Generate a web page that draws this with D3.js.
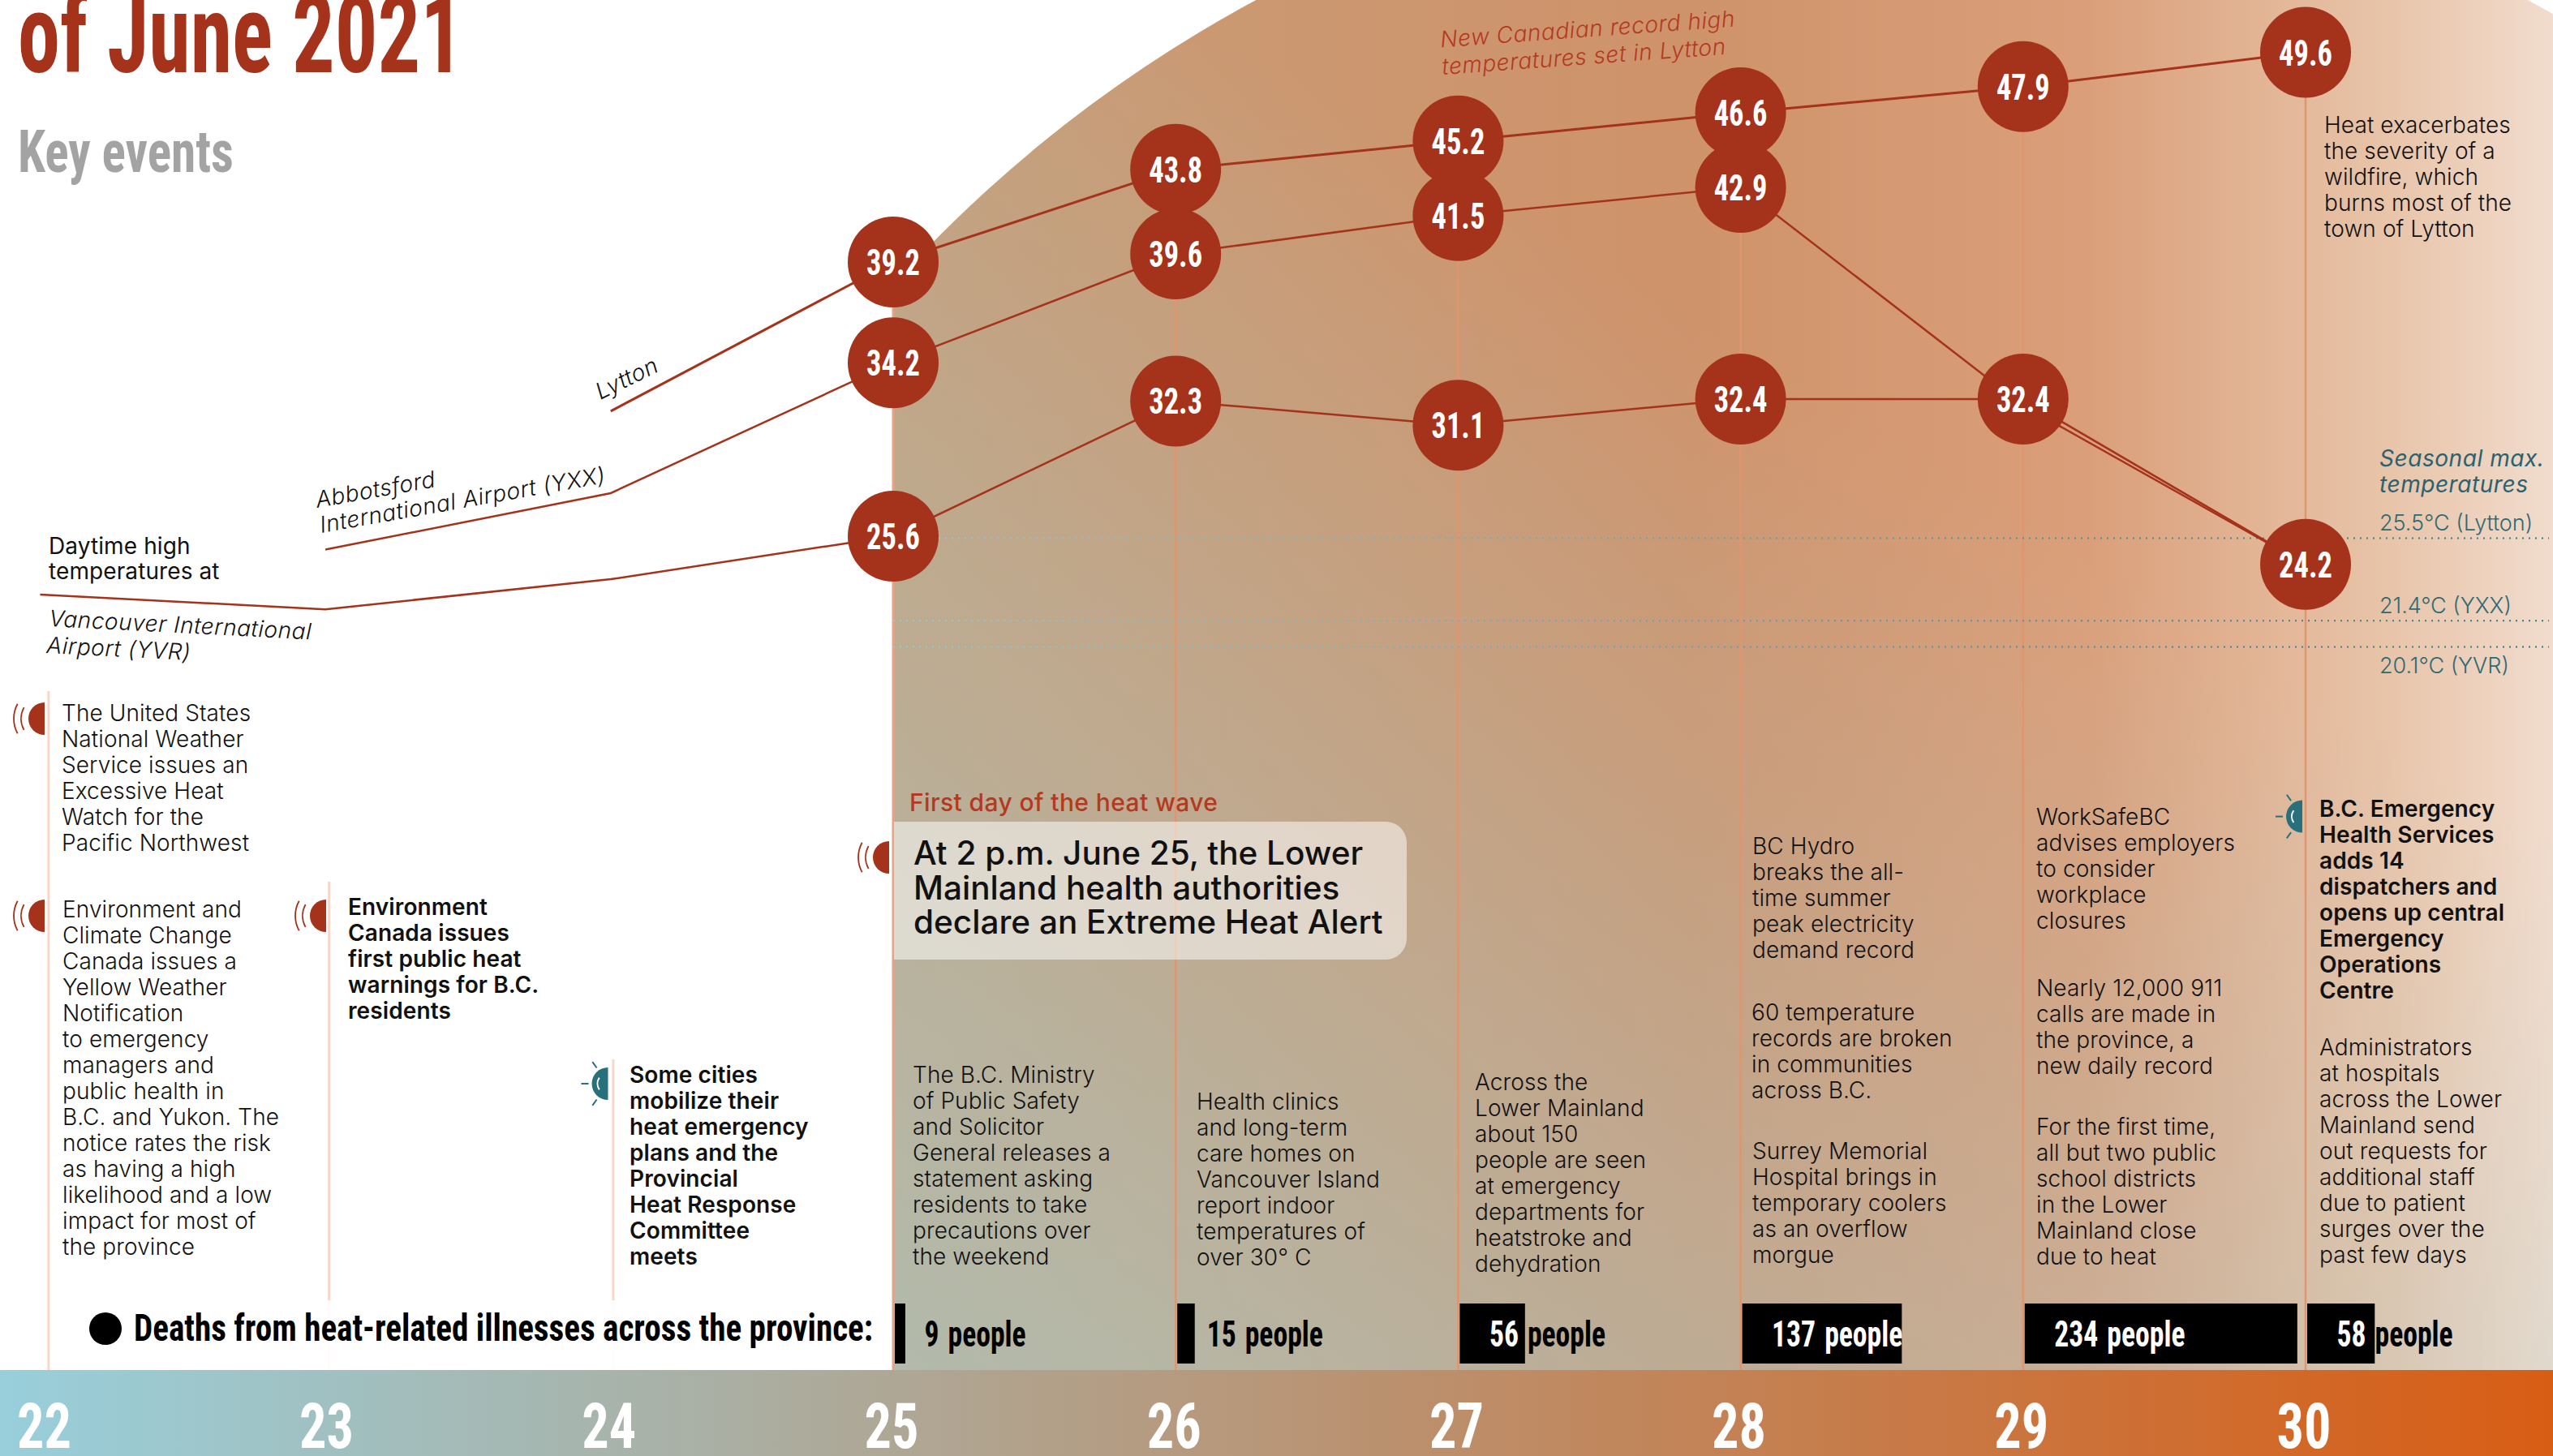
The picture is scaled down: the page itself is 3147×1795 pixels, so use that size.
<!DOCTYPE html>
<html>
<head>
<meta charset="utf-8">
<script src="https://cdn.jsdelivr.net/npm/d3@7"></script>
<style>
  html, body { margin: 0; padding: 0; background: white; overflow: hidden; }
  svg { display: block; }
</style>
</head>
<body>
<div id="chart"></div>
<script>
const width_chart = 3147
const height_chart = 1795

const color_red = "#a5321a"
const color_teal = "#27707c"
const font_body = "Inter, 'Noto Sans', sans-serif"
const font_narrow = "'Liberation Sans Narrow', 'Roboto Condensed', Roboto, sans-serif"

// temperaturas
const lyttonDays = [24, 25, 26, 27, 28, 29, 30]
const lyttonTemps = [31.8, 39.2, 43.8, 45.2, 46.6, 47.9, 49.6]
const abbotsfordDays = [22.99, 24, 25, 26, 27, 28, 29, 30]
const abbotsfordTemps = [24.93, 27.73, 34.2, 39.6, 41.5, 42.9, 32.08, 24.2]
const yvrDays = [21.98, 22.99, 24, 25, 26, 27, 28, 29, 30]
const yvrTemps = [22.7, 21.97, 23.46, 25.6, 32.3, 31.1, 32.4, 32.4, 24.2]

const dotDays = [25, 25, 25, 26, 26, 26, 27, 27, 27, 28, 28, 28, 29, 29, 30, 30]
const dotTemps = [39.2, 34.2, 25.6, 43.8, 39.6, 32.3, 45.2, 41.5, 31.1, 46.6, 42.9, 32.4, 47.9, 32.4, 49.6, 24.2]

const seasonalTemps = [25.5, 21.4, 20.1]
const seasonalLabels = ["25.5°C (Lytton)", "21.4°C (YXX)", "20.1°C (YVR)"]

const dayTicks = [22, 23, 24, 25, 26, 27, 28, 29, 30]
const deathDays = [25, 26, 27, 28, 29, 30]
const deathValues = [9, 15, 56, 137, 234, 58]

const noteUsWatch = ["The United States", "National Weather", "Service issues an", "Excessive Heat", "Watch for the", "Pacific Northwest"]
const noteYellow = ["Environment and", "Climate Change", "Canada issues a", "Yellow Weather", "Notification", "to emergency", "managers and", "public health in", "B.C. and Yukon. The", "notice rates the risk", "as having a high", "likelihood and a low", "impact for most of", "the province"]
const noteWarnings = ["Environment", "Canada issues", "first public heat", "warnings for B.C.", "residents"]
const noteCities = ["Some cities", "mobilize their", "heat emergency", "plans and the", "Provincial", "Heat Response", "Committee", "meets"]
const noteAlert = ["At 2 p.m. June 25, the Lower", "Mainland health authorities", "declare an Extreme Heat Alert"]
const noteMinistry = ["The B.C. Ministry", "of Public Safety", "and Solicitor", "General releases a", "statement asking", "residents to take", "precautions over", "the weekend"]
const noteClinics = ["Health clinics", "and long-term", "care homes on", "Vancouver Island", "report indoor", "temperatures of", "over 30° C"]
const noteSeen = ["Across the", "Lower Mainland", "about 150", "people are seen", "at emergency", "departments for", "heatstroke and", "dehydration"]
const noteHydro = ["BC Hydro", "breaks the all-", "time summer", "peak electricity", "demand record"]
const noteRecords = ["60 temperature", "records are broken", "in communities", "across B.C."]
const noteSurrey = ["Surrey Memorial", "Hospital brings in", "temporary coolers", "as an overflow", "morgue"]
const noteWorkSafe = ["WorkSafeBC", "advises employers", "to consider", "workplace", "closures"]
const noteCalls = ["Nearly 12,000 911", "calls are made in", "the province, a", "new daily record"]
const noteSchools = ["For the first time,", "all but two public", "school districts", "in the Lower", "Mainland close", "due to heat"]
const noteEhs = ["B.C. Emergency", "Health Services", "adds 14", "dispatchers and", "opens up central", "Emergency", "Operations", "Centre"]
const noteAdmins = ["Administrators", "at hospitals", "across the Lower", "Mainland send", "out requests for", "additional staff", "due to patient", "surges over the", "past few days"]
const noteWildfire = ["Heat exacerbates", "the severity of a", "wildfire, which", "burns most of the", "town of Lytton"]

const svg = d3.select("#chart").append("svg")
    .attr("width", width_chart)
    .attr("height", height_chart)
    .style("background-color", "white")

const x = d3.scaleLinear().domain([22, 30]).range([56.4, 2842])
const y = d3.scaleLinear().domain([20.1, 49.6]).range([797.6, 64.5])
const barWidth = d3.scaleLinear().domain([0, 234]).range([0, 336])

const bandTop = 1689

// angosta el texto, la fuente original es mas condensada
function squeeze(selection, factor) {
    selection.each(function () {
        const len = this.getComputedTextLength()
        d3.select(this)
            .attr("textLength", len * factor)
            .attr("lengthAdjust", "spacingAndGlyphs")
    })
}

// gradientes
const defs = svg.append("defs")

function addGradient(id, x1, y1, x2, y2, stops) {
    const grad = defs.append("linearGradient")
        .attr("id", id)
        .attr("gradientUnits", "userSpaceOnUse")
        .attr("x1", x1).attr("y1", y1).attr("x2", x2).attr("y2", y2)
    grad.selectAll("stop")
        .data(stops)
        .join("stop")
        .attr("offset", d => d[0])
        .attr("stop-color", d => d[1])
        .attr("stop-opacity", d => d[2] === undefined ? 1 : d[2])
}

addGradient("heatBase", x(25), 0, width_chart, 0, [
    [0, "#c79c76"], [0.48, "#cf936b"], [0.72, "#da9f7a"], [0.9, "#e8c4a9"], [1, "#f1dccd"]
])
addGradient("heatCool", x(25), bandTop, 1950, 300, [
    [0, "#a5cfd0", 0.6], [0.55, "#a5cfd0", 0.27], [1, "#a5cfd0", 0]
])
addGradient("dayBand", 0, 0, width_chart, 0, [[0, "#98cfdb"], [1, "#d85d14"]])
addGradient("dotted", x(25), 0, width_chart, 0, [[0, "#8fcdd6"], [0.55, "#5aa0a8"], [1, "#2c7a82"]])

defs.append("clipPath").attr("id", "heatClip")
    .append("circle").attr("cx", 2332).attr("cy", 1460).attr("r", 1657)

// fondo
const background = svg.append("g").attr("clip-path", "url(#heatClip)")
background.append("rect")
    .attr("x", x(25)).attr("y", 0)
    .attr("width", width_chart - x(25)).attr("height", bandTop)
    .attr("fill", "url(#heatBase)")
background.append("rect")
    .attr("x", x(25)).attr("y", 0)
    .attr("width", width_chart - x(25)).attr("height", bandTop)
    .attr("fill", "url(#heatCool)")

// lineas de los dias
const ruleTops = { 22.01: 852, 23.003: 1087, 24.009: 1306 }
svg.append("g").selectAll("line")
    .data(Object.keys(ruleTops).map(Number))
    .join("line")
    .attr("x1", d => x(d)).attr("x2", d => x(d))
    .attr("y1", d => ruleTops[d]).attr("y2", bandTop)
    .attr("stroke", "#f6d8ca").attr("stroke-width", 3)

svg.append("rect")
    .attr("x", 130).attr("y", 1603)
    .attr("width", x(25) - 130).attr("height", bandTop - 1603)
    .attr("fill", "white").attr("opacity", 0.9)

svg.append("g").selectAll("line")
    .data(deathDays)
    .join("line")
    .attr("x1", d => x(d)).attr("x2", d => x(d))
    .attr("y1", d => y(d3.max(dotTemps.filter((t, i) => dotDays[i] === d))))
    .attr("y2", bandTop)
    .attr("stroke", d => d === 25 ? "#e8a286" : "#de9670")
    .attr("stroke-width", d => d === 25 ? 3 : 2.5)

// maximas estacionales
svg.append("g").selectAll("line")
    .data(seasonalTemps)
    .join("line")
    .attr("x1", x(25)).attr("x2", 3142)
    .attr("y1", d => y(d)).attr("y2", d => y(d) + 0.01)
    .attr("stroke", "url(#dotted)")
    .attr("stroke-width", 2)
    .attr("stroke-dasharray", "2 6")

// series
const line = d3.line().x(d => x(d[0])).y(d => y(d[1]))
const series = [
    { days: lyttonDays, temps: lyttonTemps, stroke: 3 },
    { days: abbotsfordDays, temps: abbotsfordTemps, stroke: 2.5 },
    { days: yvrDays, temps: yvrTemps, stroke: 2.5 }
]
svg.append("g").selectAll("path")
    .data(series)
    .join("path")
    .attr("d", d => line(d3.zip(d.days, d.temps)))
    .attr("fill", "none")
    .attr("stroke", color_red)
    .attr("stroke-width", d => d.stroke)

// barras de muertes
const deaths = svg.append("g").selectAll("g")
    .data(d3.zip(deathDays, deathValues))
    .join("g")
deaths.append("rect")
    .attr("x", d => x(d[0]) + 2)
    .attr("y", 1607)
    .attr("width", d => barWidth(d[1]))
    .attr("height", 74)
    .attr("fill", "black")
deaths.each(function (d) {
    const g = d3.select(this)
    const startX = x(d[0]) + 38.5
    const number = g.append("text")
        .text(d[1])
        .attr("x", startX)
        .attr("y", 1660)
        .attr("fill", barWidth(d[1]) > 60 ? "white" : "black")
        .attr("font-family", font_narrow)
        .attr("font-weight", 700)
        .attr("font-size", 44)
    squeeze(number, 0.81)
    const numberWidth = +number.attr("textLength")
    const people = g.append("text")
        .text("people")
        .attr("x", startX + numberWidth + 11)
        .attr("y", 1660)
        .attr("fill", barWidth(d[1]) > 150 ? "white" : "black")
        .attr("font-family", font_narrow)
        .attr("font-weight", 700)
        .attr("font-size", 44)
    squeeze(people, 0.81)
})

// cajita de la alerta
svg.append("path")
    .attr("d", "M1102,1013 H1708 a26,26 0 0 1 26,26 V1157 a26,26 0 0 1 -26,26 H1102 Z")
    .attr("fill", "white")
    .attr("opacity", 0.52)

// circulos
const dots = svg.append("g").selectAll("g")
    .data(d3.zip(dotDays, dotTemps))
    .join("g")
    .attr("transform", d => `translate(${x(d[0])}, ${y(d[1])})`)
dots.append("circle")
    .attr("r", 56)
    .attr("fill", color_red)
dots.append("text")
    .text(d => d[1].toFixed(1))
    .attr("text-anchor", "middle")
    .attr("dy", 16)
    .attr("fill", "white")
    .attr("font-family", font_narrow)
    .attr("font-weight", 700)
    .attr("font-size", 45)
    .call(squeeze, 0.81)

// banda inferior con los dias
svg.append("rect")
    .attr("x", 0).attr("y", bandTop)
    .attr("width", width_chart).attr("height", height_chart - bandTop)
    .attr("fill", "url(#dayBand)")
svg.append("g").selectAll("text")
    .data(dayTicks)
    .join("text")
    .text(d => d)
    .attr("x", d => x(d) - 2)
    .attr("y", 1785)
    .attr("text-anchor", "middle")
    .attr("fill", "white")
    .attr("font-family", font_narrow)
    .attr("font-weight", 700)
    .attr("font-size", 78)
    .call(squeeze, 0.85)

// titulos
svg.append("text")
    .text("of June 2021")
    .attr("x", 22).attr("y", 89)
    .attr("fill", color_red)
    .attr("font-family", font_narrow)
    .attr("font-weight", 700)
    .attr("font-size", 136)
    .attr("textLength", 549)
    .attr("lengthAdjust", "spacingAndGlyphs")
svg.append("text")
    .text("Key events")
    .attr("x", 22).attr("y", 212)
    .attr("fill", "#a3a3a3")
    .attr("font-family", font_narrow)
    .attr("font-weight", 700)
    .attr("font-size", 72)
    .attr("textLength", 266)
    .attr("lengthAdjust", "spacingAndGlyphs")

// bloques de texto
function note(lines, px, py, opts = {}) {
    const size = opts.size || 28
    const step = opts.step || 32
    svg.append("g")
        .attr("transform", opts.rotate ? `rotate(${opts.rotate}, ${px}, ${py})` : null)
        .selectAll("text")
        .data(lines)
        .join("text")
        .text(d => d)
        .attr("x", px)
        .attr("y", (d, i) => py + i * step)
        .attr("fill", opts.color || "#111")
        .attr("font-family", font_body)
        .attr("font-size", size)
        .attr("font-weight", opts.weight || 300)
        .attr("font-style", opts.italic ? "italic" : null)
        .attr("letter-spacing", opts.spacing === undefined ? (opts.italic ? 0.55 : 0.1) : opts.spacing)
}

note(noteUsWatch, 76, 888.5)
note(noteYellow, 77, 1130.5)
note(noteWarnings, 429, 1128, { weight: 600 })
note(noteCities, 776, 1335, { weight: 600 })

note(["First day of the heat wave"], 1121, 1000, { color: "#b5391f", size: 30, weight: 500, spacing: 0.4 })
note(noteAlert, 1126, 1066, { size: 40.5, step: 42.5, weight: 500, spacing: 0 })

note(noteMinistry, 1125, 1335)
note(noteClinics, 1475, 1368)
note(noteSeen, 1818, 1344)
note(noteHydro, 2160, 1052.5)
note(noteRecords, 2159, 1258)
note(noteSurrey, 2160, 1428.5)
note(noteWorkSafe, 2510, 1017)
note(noteCalls, 2510, 1228)
note(noteSchools, 2510, 1399)
note(noteEhs, 2859, 1007, { weight: 600 })
note(noteAdmins, 2859, 1301)
note(noteWildfire, 2865, 164)

note(["Seasonal max.", "temperatures"], 2933, 574.5, { color: "#2a6270", italic: true, weight: 400 })
seasonalLabels.forEach((label, i) => {
    const labelY = i === 2 ? y(seasonalTemps[i]) + 32 : y(seasonalTemps[i]) - 9
    note([label], 2933, labelY, { color: "#2f6a74", size: 27, spacing: 0 })
})

note(["Daytime high", "temperatures at"], 60, 683, { weight: 400, step: 31 })
note(["Vancouver International"], 60, 772, { italic: true, rotate: 2.9 })
note(["Airport (YVR)"], 57, 805, { italic: true, rotate: 2.9 })
note(["Abbotsford"], 391, 626, { italic: true, rotate: -10 })
note(["International Airport (YXX)"], 396, 657, { italic: true, rotate: -10 })
note(["Lytton"], 740, 493, { italic: true, rotate: -26 })
note(["New Canadian record high"], 1776, 58.5, { italic: true, rotate: -4.1, color: "#b5391f" })
note(["temperatures set in Lytton"], 1778, 92, { italic: true, rotate: -4.1, color: "#b5391f" })

// etiqueta de muertes
svg.append("circle")
    .attr("cx", 130).attr("cy", 1638).attr("r", 20)
    .attr("fill", "black")
svg.append("text")
    .text("Deaths from heat-related illnesses across the province:")
    .attr("x", 165).attr("y", 1653)
    .attr("font-family", font_narrow)
    .attr("font-weight", 700)
    .attr("font-size", 46)
    .attr("textLength", 911)
    .attr("lengthAdjust", "spacingAndGlyphs")

// iconos
const halfDisc = d3.arc().innerRadius(0).outerRadius(20).startAngle(Math.PI).endAngle(2 * Math.PI)
function waveArc(r, spread) {
    return d3.arc().innerRadius(r).outerRadius(r).startAngle(-Math.PI / 2 - spread).endAngle(-Math.PI / 2 + spread)()
}

function alertIcon(px, py) {
    const g = svg.append("g").attr("transform", `translate(${px}, ${py})`)
    g.append("path").attr("d", halfDisc()).attr("fill", color_red)
    g.selectAll("path.wave")
        .data([29, 38])
        .join("path")
        .attr("class", "wave")
        .attr("d", d => waveArc(d, 0.5))
        .attr("fill", "none")
        .attr("stroke", color_red)
        .attr("stroke-width", 1.8)
}

function bulbIcon(px, py) {
    const g = svg.append("g").attr("transform", `translate(${px}, ${py})`)
    g.append("path").attr("d", halfDisc()).attr("fill", color_teal)
    g.append("path")
        .attr("d", waveArc(13, 0.6))
        .attr("fill", "none")
        .attr("stroke", "white")
        .attr("stroke-width", 2)
    g.selectAll("line")
        .data([Math.PI - 0.95, Math.PI, Math.PI + 0.95])
        .join("line")
        .attr("x1", d => 24 * Math.cos(d))
        .attr("y1", d => 24 * Math.sin(d))
        .attr("x2", d => 33 * Math.cos(d))
        .attr("y2", d => 33 * Math.sin(d))
        .attr("stroke", color_teal)
        .attr("stroke-width", 2)
}

alertIcon(55, 886)
alertIcon(55, 1129)
alertIcon(402, 1129)
alertIcon(1096, 1057)
bulbIcon(749.5, 1336)
bulbIcon(2838, 1006.6)
</script>
</body>
</html>
